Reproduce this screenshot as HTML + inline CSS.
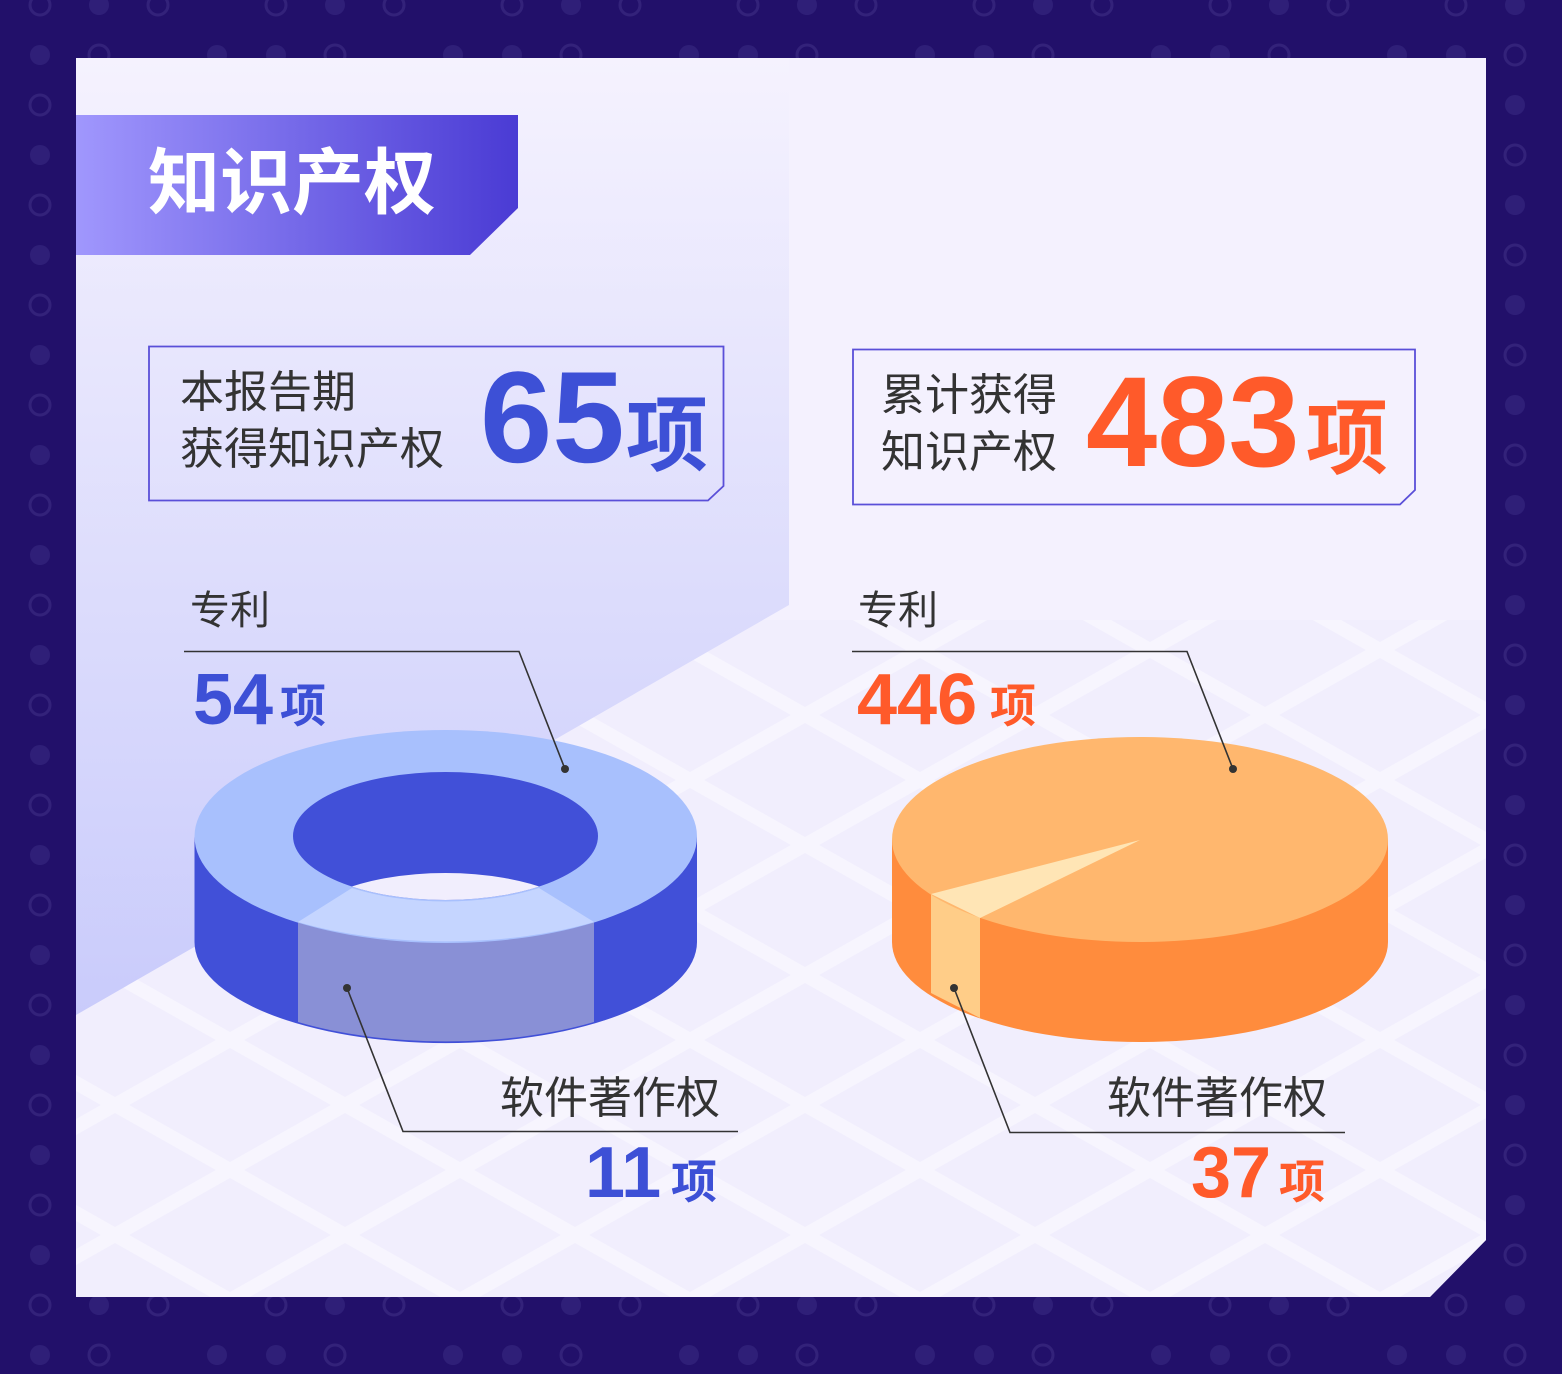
<!DOCTYPE html>
<html><head><meta charset="utf-8"><style>
html,body{margin:0;padding:0;background:#22106a;}
svg{display:block;}
text{font-family:"Liberation Sans","Noto Sans CJK SC",sans-serif;}
</style></head><body>
<svg width="1562" height="1374" viewBox="0 0 1562 1374" xmlns="http://www.w3.org/2000/svg">
<defs>
<pattern id="dots" x="10" y="-25" width="236" height="100" patternUnits="userSpaceOnUse">
<circle cx="30" cy="30" r="10" fill="none" stroke="#33227a" stroke-width="3"/>
<circle cx="89" cy="30" r="10" fill="#2f1f78"/>
<circle cx="207" cy="80" r="10" fill="#2f1f78"/>
<circle cx="89" cy="80" r="10" fill="none" stroke="#33227a" stroke-width="3"/>
<circle cx="148" cy="30" r="10" fill="none" stroke="#33227a" stroke-width="3"/>
<circle cx="30" cy="80" r="10" fill="#2f1f78"/>
</pattern>
<linearGradient id="ban" x1="0" x2="1" y1="0" y2="0"><stop offset="0" stop-color="#a097fd"/><stop offset="1" stop-color="#4a3bd4"/></linearGradient>
<linearGradient id="panel" x1="0" x2="0" y1="0" y2="1"><stop offset="0" stop-color="#f5f2fe"/><stop offset="1" stop-color="#c9cbfb"/></linearGradient>
<pattern id="grid" x="0" y="0" width="230" height="130" patternUnits="userSpaceOnUse">
<path d="M0 0 L230 130 M230 0 L0 130" stroke="#ffffff" stroke-width="14" opacity="0.4"/>
</pattern>
<clipPath id="hole"><ellipse cx="445.5" cy="836" rx="152.5" ry="64"/></clipPath>
</defs>
<rect width="1562" height="1374" fill="#22106a"/>
<rect width="1562" height="1374" fill="url(#dots)"/>
<path d="M76 58 H1486 V1240 L1430 1297 H76 Z" fill="#f4f1fe"/>
<path d="M76 620 H1486 V1240 L1430 1297 H76 Z" fill="#eeebfc" opacity="0.5"/>
<path d="M76 620 H1486 V1240 L1430 1297 H76 Z" fill="url(#grid)"/>
<path d="M76 58 H789 V605 L76 1015 Z" fill="url(#panel)"/>
<path d="M76 115 H518 V208 L470 255 H76 Z" fill="url(#ban)"/>
<text x="148" y="208" font-size="72" font-weight="bold" fill="#fff">知识产权</text>
<path d="M149 346.5 H723.5 V486 L708 500.5 H149 Z" fill="none" stroke="#5a4fd8" stroke-width="1.8"/>
<text x="180" y="407" font-size="44" fill="#333">本报告期</text>
<text x="180" y="464" font-size="44" fill="#333">获得知识产权</text>
<text x="480" y="462" font-size="130" font-weight="bold" fill="#3d50d6">65</text>
<text x="626" y="464" font-size="82" font-weight="bold" fill="#3d50d6">项</text>
<path d="M853 349.5 H1415 V490 L1400 504.5 H853 Z" fill="none" stroke="#5a4fd8" stroke-width="1.8"/>
<text x="881" y="410" font-size="44" fill="#333">累计获得</text>
<text x="881" y="467" font-size="44" fill="#333">知识产权</text>
<text x="1086" y="466" font-size="128" font-weight="bold" fill="#ff5a2a">483</text>
<text x="1306" y="467" font-size="82" font-weight="bold" fill="#ff5a2a">项</text>
<path d="M194.5 837 V942 A251 101 0 0 0 697 942 V837 Z" fill="#4150d8"/>
<path d="M298 922 V1022 A251 101 0 0 0 594 1022 V922 A251 101 0 0 1 298 922 Z" fill="#8990d6"/>
<ellipse cx="445.75" cy="836.5" rx="251.25" ry="106.5" fill="#a8c0fd"/>
<path d="M298 922 L352 888 A152.5 64 0 0 0 539 888 L594 922 A251 101 0 0 1 298 922 Z" fill="#c5d5ff"/>
<ellipse cx="445.5" cy="836" rx="152.5" ry="64" fill="#4150d8"/>
<ellipse cx="445.5" cy="937" rx="152.5" ry="64" fill="#f1eefd" clip-path="url(#hole)"/>
<path d="M892 840 V942 A248 100 0 0 0 1388 942 V840 Z" fill="#ff8c3d"/>
<path d="M931 894 V993 L980 1018 V918 Z" fill="#ffcd88"/>
<ellipse cx="1140" cy="839.5" rx="248" ry="102.5" fill="#ffb76e"/>
<path d="M1140 840 L931 894 L980 918 Z" fill="#ffe5b5"/>
<g stroke="#333" stroke-width="1.6" fill="none">
<path d="M184 651.5 H519 L565 769"/>
<path d="M347 988 L403 1131.5 H738"/>
<path d="M852 651.5 H1187 L1233 769"/>
<path d="M954 988 L1010 1132.5 H1345"/>
</g>
<g fill="#333"><circle cx="565" cy="769" r="4"/><circle cx="347" cy="988" r="4"/><circle cx="1233" cy="769" r="4"/><circle cx="954" cy="988" r="4"/></g>
<text x="190" y="624" font-size="40" fill="#333">专利</text>
<text x="193" y="724" font-size="72" font-weight="bold" fill="#3d50d6">54</text>
<text x="280" y="722" font-size="46" font-weight="bold" fill="#3d50d6">项</text>
<text x="720" y="1113" font-size="44" fill="#333" text-anchor="end">软件著作权</text>
<text x="585" y="1197" font-size="72" font-weight="bold" fill="#3d50d6">11</text>
<text x="671" y="1198" font-size="46" font-weight="bold" fill="#3d50d6">项</text>
<text x="858" y="624" font-size="40" fill="#333">专利</text>
<text x="857" y="724" font-size="72" font-weight="bold" fill="#ff5a2a">446</text>
<text x="990" y="722" font-size="46" font-weight="bold" fill="#ff5a2a">项</text>
<text x="1327" y="1113" font-size="44" fill="#333" text-anchor="end">软件著作权</text>
<text x="1191" y="1197" font-size="72" font-weight="bold" fill="#ff5a2a">37</text>
<text x="1279" y="1198" font-size="46" font-weight="bold" fill="#ff5a2a">项</text>
</svg>
</body></html>
